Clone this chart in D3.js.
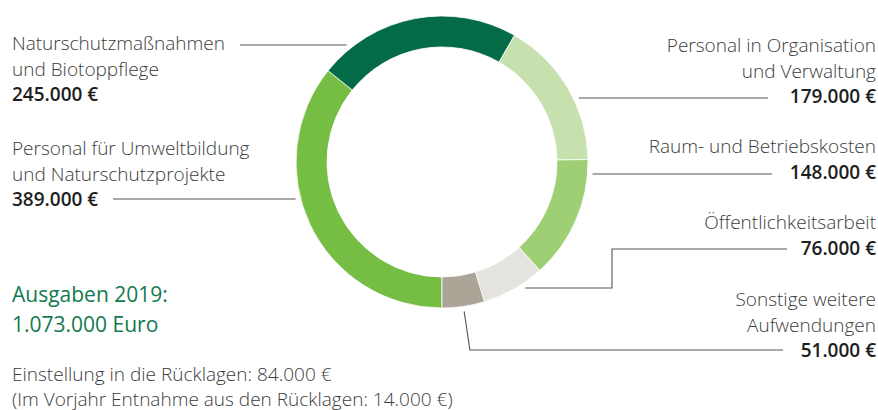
<!DOCTYPE html>
<html>
<head>
<meta charset="utf-8">
<script src="https://cdn.jsdelivr.net/npm/d3@7"></script>
<style>
  body { margin: 0; background: #fff; }
  svg text { font-family: "Open Sans", sans-serif; }
</style>
</head>
<body>
<div id="chart"></div>
<script>
// slices in drawing order, clockwise starting at the bottom (6 o'clock)
const categories = [
  ['Personal für Umweltbildung', 'und Naturschutzprojekte'],
  ['Naturschutzmaßnahmen', 'und Biotoppflege'],
  ['Personal in Organisation', 'und Verwaltung'],
  ['Raum- und Betriebskosten'],
  ['Öffentlichkeitsarbeit'],
  ['Sonstige weitere', 'Aufwendungen']
]
const values = [389000, 245000, 179000, 148000, 76000, 51000]
const colors = ['#76bd43', '#036b45', '#c6e1ad', '#9fcf75', '#e4e3de', '#aba597']

const totalLabel = ['Ausgaben 2019:', '1.073.000 Euro']
const noteLines = ['Einstellung in die Rücklagen: 84.000 €', '(Im Vorjahr Entnahme aus den Rücklagen: 14.000 €)']

const width = 878
const height = 410
const cx = 442, cy = 162
const outerR = 146, innerR = 115
const gap = 5

const fmt = v => d3.format(',')(v).replace(/,/g, '.') + ' €'

// label layout: side, baseline of first line, y of the leader line, far end of the leader
const layout = [
  { side: 'left',  y: 155, lineY: 199, lineX: 113 },
  { side: 'left',  y: 50,  lineY: 45,  lineX: 240 },
  { side: 'right', y: 52,  lineY: 98,  lineX: 768 },
  { side: 'right', y: 153, lineY: 174, lineX: 772 },
  { side: 'right', y: 229, lineY: 288, lineX: 787, elbowX: 612, elbowY: 249 },
  { side: 'right', y: 306, radial: 44, lineY: 352, lineX: 783 }
]

const svg = d3.select('#chart')
  .append('svg')
  .attr('width', width)
  .attr('height', height)

const pie = d3.pie()
  .sort(null)
  .startAngle(Math.PI)
  .endAngle(3 * Math.PI)

const arc = d3.arc()
  .innerRadius(innerR)
  .outerRadius(outerR)

const arcs = pie(values)

const ring = svg.append('g')
  .attr('transform', `translate(${cx},${cy})`)

ring.selectAll('path')
  .data(arcs)
  .enter()
  .append('path')
  .attr('d', arc)
  .attr('fill', (d, i) => colors[i])
  .attr('stroke', '#fff')
  .attr('stroke-width', 0.8)

// leader lines
const leaders = svg.append('g')
  .attr('fill', 'none')
  .attr('stroke', '#555')
  .attr('stroke-width', 1.1)

const edgeX = (y, side) => {
  const rr = outerR + gap
  const dx = Math.sqrt(rr * rr - (y - cy) * (y - cy))
  return side === 'left' ? cx - dx : cx + dx
}

arcs.forEach((a, i) => {
  const l = layout[i]
  let pts
  if (l.radial) {
    const mid = (a.startAngle + a.endAngle) / 2
    const p0 = [cx + Math.sin(mid) * (outerR + gap), cy - Math.cos(mid) * (outerR + gap)]
    const p1 = [cx + Math.sin(mid) * (outerR + l.radial), cy - Math.cos(mid) * (outerR + l.radial)]
    pts = [p0, p1, [l.lineX, p1[1]]]
  } else if (l.elbowX) {
    pts = [[edgeX(l.lineY, l.side), l.lineY], [l.elbowX, l.lineY], [l.elbowX, l.elbowY], [l.lineX, l.elbowY]]
  } else {
    pts = [[edgeX(l.lineY, l.side), l.lineY], [l.lineX, l.lineY]]
  }
  leaders.append('path').attr('d', d3.line()(pts))
})

// category labels
const labels = svg.append('g')

categories.forEach((lines, i) => {
  const l = layout[i]
  const x = l.side === 'left' ? 12 : 876
  const t = labels.append('text')
    .attr('x', x)
    .attr('y', l.y)
    .attr('text-anchor', l.side === 'left' ? 'start' : 'end')
    .attr('font-size', 19)
  lines.forEach((s, j) => {
    t.append('tspan')
      .attr('x', x)
      .attr('dy', j === 0 ? 0 : 25.5)
      .attr('fill', '#3c3c3c')
      .attr('font-weight', 300)
      .text(s)
  })
  t.append('tspan')
    .attr('x', x)
    .attr('dy', 25.5)
    .attr('fill', '#1e1e1e')
    .attr('font-weight', 600)
    .text(fmt(values[i]))
})

// total
svg.append('g')
  .selectAll('text')
  .data(totalLabel)
  .enter()
  .append('text')
  .attr('x', 12)
  .attr('y', (d, i) => 302 + i * 30)
  .attr('font-size', 21)
  .attr('fill', '#127a4e')
  .text(d => d)

svg.append('g')
  .selectAll('text')
  .data(noteLines)
  .enter()
  .append('text')
  .attr('x', 12)
  .attr('y', (d, i) => 381 + i * 25)
  .attr('font-size', 19)
  .attr('font-weight', 300)
  .attr('fill', '#3c3c3c')
  .text(d => d)
</script>
</body>
</html>
